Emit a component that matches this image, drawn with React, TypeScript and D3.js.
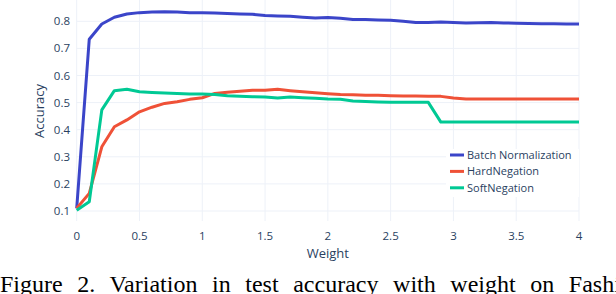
import React, { useRef, useEffect } from "react";
import * as d3 from "d3";

// x values (Weight)
const weights = [
  0, 0.1, 0.2, 0.3, 0.4, 0.5, 0.6, 0.7, 0.8, 0.9,
  1, 1.1, 1.2, 1.3, 1.4, 1.5, 1.6, 1.7, 1.8, 1.9,
  2, 2.1, 2.2, 2.3, 2.4, 2.5, 2.6, 2.7, 2.8, 2.9,
  3, 3.1, 3.2, 3.3, 3.4, 3.5, 3.6, 3.7, 3.8, 3.9, 4,
];

const batchNorm = [
  0.11, 0.734, 0.79, 0.815, 0.827, 0.832, 0.834, 0.835, 0.834, 0.832,
  0.832, 0.831, 0.829, 0.827, 0.826, 0.821, 0.82, 0.819, 0.815, 0.812,
  0.814, 0.811, 0.807, 0.807, 0.805, 0.804, 0.8, 0.796, 0.796, 0.797,
  0.796, 0.794, 0.795, 0.796, 0.794, 0.793, 0.792, 0.791, 0.791, 0.79, 0.79,
];

const hardNeg = [
  0.11, 0.165, 0.337, 0.411, 0.436, 0.466, 0.483, 0.497, 0.503, 0.512,
  0.518, 0.534, 0.538, 0.542, 0.546, 0.546, 0.549, 0.544, 0.54, 0.536,
  0.533, 0.53, 0.529, 0.527, 0.527, 0.525, 0.524, 0.524, 0.523, 0.523,
  0.517, 0.513, 0.513, 0.513, 0.513, 0.513, 0.513, 0.513, 0.513, 0.513, 0.513,
];

const softNeg = [
  0.103, 0.134, 0.473, 0.544, 0.549, 0.54, 0.537, 0.535, 0.534, 0.532,
  0.532, 0.53, 0.525, 0.523, 0.522, 0.521, 0.517, 0.521, 0.518, 0.516,
  0.513, 0.512, 0.506, 0.504, 0.502, 0.501, 0.501, 0.501, 0.501, 0.428,
  0.428, 0.428, 0.428, 0.428, 0.428, 0.428, 0.428, 0.428, 0.428, 0.428, 0.428,
];

const seriesNames = ["Batch Normalization", "HardNegation", "SoftNegation"];
const seriesColors = ["#3b45c9", "#ef5137", "#00c994"];
const xTicks = [0, 0.5, 1, 1.5, 2, 2.5, 3, 3.5, 4];
const yTicks = [0.1, 0.2, 0.3, 0.4, 0.5, 0.6, 0.7, 0.8];

const caption = "Figure 2. Variation in test accuracy with weight on Fashion-MNIST";

const W = 616;
const H = 294;
const FONT = "'Open Sans', 'DejaVu Sans', sans-serif";
const TEXT = "#2a3f5f";

const App = () => {
  const svgRef = useRef<SVGSVGElement>(null);

  useEffect(() => {
    const svg = d3.select(svgRef.current);
    svg.selectAll("*").remove();

    const plot = { left: 76.7, right: 579, top: 0, bottom: 221 };

    const x = d3.scaleLinear().domain([0, 4]).range([plot.left, plot.right]);
    const y = d3.scaleLinear().domain([0.1, 0.8]).range([211, 21.3]);

    svg.append("rect").attr("width", W).attr("height", H).attr("fill", "#fff");

    // grid
    const grid = svg.append("g").attr("stroke", "#edf1f8").attr("stroke-width", 1);
    xTicks.forEach(t => {
      grid.append("line")
        .attr("x1", x(t)).attr("x2", x(t))
        .attr("y1", plot.top).attr("y2", plot.bottom);
    });
    yTicks.forEach(t => {
      grid.append("line")
        .attr("x1", plot.left).attr("x2", plot.right)
        .attr("y1", y(t)).attr("y2", y(t));
    });

    // lines
    const all = [batchNorm, hardNeg, softNeg];
    const line = d3.line<number>()
      .x((_, i) => x(weights[i]))
      .y(d => y(d));

    all.forEach((vals, i) => {
      svg.append("path")
        .datum(vals)
        .attr("fill", "none")
        .attr("stroke", seriesColors[i])
        .attr("stroke-width", 3)
        .attr("stroke-linejoin", "round")
        .attr("d", line);
    });

    // tick labels
    const yAxis = svg.append("g").attr("font-family", FONT).attr("font-size", 11.5).attr("fill", TEXT);
    yTicks.forEach(t => {
      yAxis.append("text")
        .attr("x", 70)
        .attr("y", y(t))
        .attr("dy", "0.35em")
        .attr("text-anchor", "end")
        .text(d3.format(".1f")(t));
    });

    const xAxis = svg.append("g").attr("font-family", FONT).attr("font-size", 11.5).attr("fill", TEXT);
    xTicks.forEach(t => {
      xAxis.append("text")
        .attr("x", x(t))
        .attr("y", 240)
        .attr("text-anchor", "middle")
        .text(String(t));
    });

    // axis titles
    svg.append("text")
      .attr("x", x(2))
      .attr("y", 258)
      .attr("text-anchor", "middle")
      .attr("font-family", FONT)
      .attr("font-size", 13)
      .attr("fill", TEXT)
      .text("Weight");

    svg.append("text")
      .attr("transform", `translate(44, 111) rotate(-90)`)
      .attr("text-anchor", "middle")
      .attr("font-family", FONT)
      .attr("font-size", 13)
      .attr("fill", TEXT)
      .text("Accuracy");

    // legend
    const legend = svg.append("g").attr("transform", "translate(446, 149)");
    legend.append("rect")
      .attr("width", 133)
      .attr("height", 48)
      .attr("fill", "#fff");
    seriesNames.forEach((name, i) => {
      const ly = 6 + i * 16.4;
      legend.append("line")
        .attr("x1", 4).attr("x2", 18)
        .attr("y1", ly).attr("y2", ly)
        .attr("stroke", seriesColors[i])
        .attr("stroke-width", 3);
      legend.append("text")
        .attr("x", 21)
        .attr("y", ly)
        .attr("dy", "0.35em")
        .attr("font-family", FONT)
        .attr("font-size", 11)
        .attr("fill", TEXT)
        .text(name);
    });

    // figure caption (cut off by the crop, as in the source figure)
    svg.append("text")
      .attr("x", 0)
      .attr("y", 292)
      .attr("font-family", "'Liberation Serif', 'Times New Roman', serif")
      .attr("font-size", 24)
      .attr("word-spacing", 8.6)
      .attr("fill", "#000")
      .text(caption);
  }, []);

  return (
    <svg
      ref={svgRef}
      width={W}
      height={H}
      style={{ position: "absolute", left: 0, top: 0 }}
    ></svg>
  );
};

export default App;
